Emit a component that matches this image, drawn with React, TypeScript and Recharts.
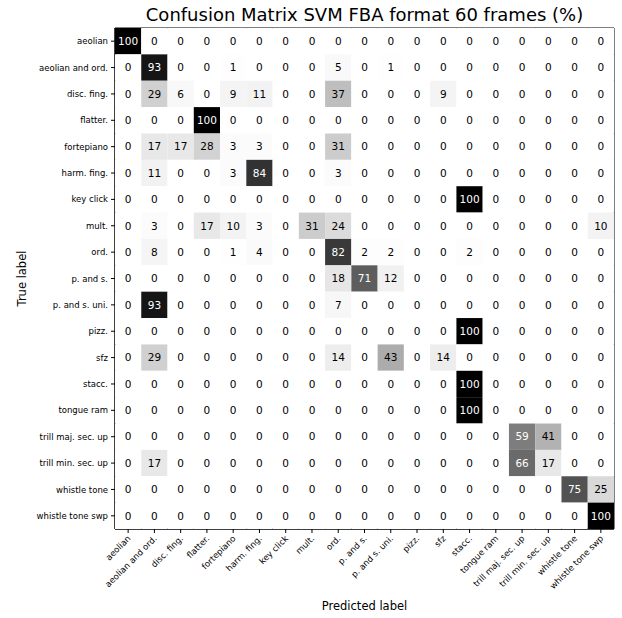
import React from 'react';
import { ScatterChart, Scatter, XAxis, YAxis, ReferenceArea } from 'recharts';

const labels = [
  'aeolian', 'aeolian and ord.', 'disc. fing.', 'flatter.', 'fortepiano', 'harm. fing.',
  'key click', 'mult.', 'ord.', 'p. and s.', 'p. and s. uni.', 'pizz.', 'sfz', 'stacc.',
  'tongue ram', 'trill maj. sec. up', 'trill min. sec. up', 'whistle tone', 'whistle tone swp',
];

const rowAeolian = [100, 0, 0, 0, 0, 0, 0, 0, 0, 0, 0, 0, 0, 0, 0, 0, 0, 0, 0];
const rowAeolianOrd = [0, 93, 0, 0, 1, 0, 0, 0, 5, 0, 1, 0, 0, 0, 0, 0, 0, 0, 0];
const rowDiscFing = [0, 29, 6, 0, 9, 11, 0, 0, 37, 0, 0, 0, 9, 0, 0, 0, 0, 0, 0];
const rowFlatter = [0, 0, 0, 100, 0, 0, 0, 0, 0, 0, 0, 0, 0, 0, 0, 0, 0, 0, 0];
const rowFortepiano = [0, 17, 17, 28, 3, 3, 0, 0, 31, 0, 0, 0, 0, 0, 0, 0, 0, 0, 0];
const rowHarmFing = [0, 11, 0, 0, 3, 84, 0, 0, 3, 0, 0, 0, 0, 0, 0, 0, 0, 0, 0];
const rowKeyClick = [0, 0, 0, 0, 0, 0, 0, 0, 0, 0, 0, 0, 0, 100, 0, 0, 0, 0, 0];
const rowMult = [0, 3, 0, 17, 10, 3, 0, 31, 24, 0, 0, 0, 0, 0, 0, 0, 0, 0, 10];
const rowOrd = [0, 8, 0, 0, 1, 4, 0, 0, 82, 2, 2, 0, 0, 2, 0, 0, 0, 0, 0];
const rowPandS = [0, 0, 0, 0, 0, 0, 0, 0, 18, 71, 12, 0, 0, 0, 0, 0, 0, 0, 0];
const rowPandSUni = [0, 93, 0, 0, 0, 0, 0, 0, 7, 0, 0, 0, 0, 0, 0, 0, 0, 0, 0];
const rowPizz = [0, 0, 0, 0, 0, 0, 0, 0, 0, 0, 0, 0, 0, 100, 0, 0, 0, 0, 0];
const rowSfz = [0, 29, 0, 0, 0, 0, 0, 0, 14, 0, 43, 0, 14, 0, 0, 0, 0, 0, 0];
const rowStacc = [0, 0, 0, 0, 0, 0, 0, 0, 0, 0, 0, 0, 0, 100, 0, 0, 0, 0, 0];
const rowTongueRam = [0, 0, 0, 0, 0, 0, 0, 0, 0, 0, 0, 0, 0, 100, 0, 0, 0, 0, 0];
const rowTrillMaj = [0, 0, 0, 0, 0, 0, 0, 0, 0, 0, 0, 0, 0, 0, 0, 59, 41, 0, 0];
const rowTrillMin = [0, 17, 0, 0, 0, 0, 0, 0, 0, 0, 0, 0, 0, 0, 0, 66, 17, 0, 0];
const rowWhistle = [0, 0, 0, 0, 0, 0, 0, 0, 0, 0, 0, 0, 0, 0, 0, 0, 0, 75, 25];
const rowWhistleSwp = [0, 0, 0, 0, 0, 0, 0, 0, 0, 0, 0, 0, 0, 0, 0, 0, 0, 0, 100];

const matrix = [
  rowAeolian, rowAeolianOrd, rowDiscFing, rowFlatter, rowFortepiano, rowHarmFing,
  rowKeyClick, rowMult, rowOrd, rowPandS, rowPandSUni, rowPizz, rowSfz, rowStacc,
  rowTongueRam, rowTrillMaj, rowTrillMin, rowWhistle, rowWhistleSwp,
];

const tickIdx = labels.map((_, i) => i);

const cells = matrix.flatMap((row, r) => row.map((v, c) => ({ x: c, y: r, v })));

// matplotlib "Greys" colormap stops
const greyStops = [255, 240, 217, 189, 150, 115, 82, 37, 0];
function greys(frac: number) {
  const f = Math.max(0, Math.min(1, frac)) * (greyStops.length - 1);
  const i = Math.min(Math.floor(f), greyStops.length - 2);
  const t = f - i;
  const g = Math.round(greyStops[i] + (greyStops[i + 1] - greyStops[i]) * t);
  return `rgb(${g},${g},${g})`;
}

const W = 622;
const H = 618;
const margin = { top: 28, right: 8, left: 15, bottom: 29 };
const yAxisW = 100;
const xAxisH = 60;
const plotW = W - margin.left - margin.right - yAxisW;
const plotH = H - margin.top - margin.bottom - xAxisH;
const n = labels.length;
const cellW = plotW / n;
const cellH = plotH / n;
const font = 'DejaVu Sans';

const CellShape = (props: any) => {
  const { cx, cy, payload } = props;
  const v = payload.v;
  return (
    <g>
      <rect x={cx - cellW / 2} y={cy - cellH / 2} width={cellW} height={cellH} fill={greys(v / 100)} />
      <text
        x={cx}
        y={cy}
        dy="0.36em"
        textAnchor="middle"
        fontSize={10.5}
        fontFamily={font}
        fill={v > 50 ? '#fff' : '#000'}
      >
        {v}
      </text>
    </g>
  );
};

const XTick = (props: any) => {
  const { x, y, payload } = props;
  return (
    <g transform={`translate(${x + 3},${y + 4})`}>
      <text x={0} y={0} textAnchor="end" transform="rotate(-45)" fontSize={8.5} fontFamily={font} fill="#000">
        {labels[payload.value]}
      </text>
    </g>
  );
};

const YTick = (props: any) => {
  const { x, y, payload } = props;
  return (
    <text x={x} y={y} dy="0.36em" textAnchor="end" fontSize={8.5} fontFamily={font} fill="#000">
      {labels[payload.value]}
    </text>
  );
};

export default function App() {
  return (
    <div style={{ position: 'absolute', left: 0, top: 0, width: W, height: H, background: '#fff' }}>
      <div
        style={{
          position: 'absolute',
          left: margin.left + yAxisW + plotW / 2 - 300,
          width: 600,
          top: 4,
          textAlign: 'center',
          fontFamily: font,
          fontSize: 18,
          lineHeight: '22px',
          color: '#000',
          whiteSpace: 'nowrap',
        }}
      >
        Confusion Matrix SVM FBA format 60 frames (%)
      </div>
      <ScatterChart width={W} height={H} margin={margin}>
        <XAxis
          type="number"
          dataKey="x"
          domain={[-0.5, n - 0.5]}
          ticks={tickIdx}
          interval={0}
          tick={<XTick />}
          tickSize={4}
          tickLine={{ stroke: '#000' }}
          axisLine={{ stroke: '#000' }}
          height={xAxisH}
          allowDataOverflow
          label={{ value: 'Predicted label', position: 'bottom', offset: 13, fontSize: 11.5, fontFamily: font, fill: '#000' }}
        />
        <YAxis
          type="number"
          dataKey="y"
          domain={[-0.5, n - 0.5]}
          reversed
          ticks={tickIdx}
          interval={0}
          tick={<YTick />}
          tickSize={4}
          tickMargin={3}
          tickLine={{ stroke: '#000' }}
          axisLine={{ stroke: '#000' }}
          width={yAxisW}
          allowDataOverflow
          label={{
            value: 'True label',
            angle: -90,
            position: 'insideLeft',
            offset: 7,
            fontSize: 11.5,
            fontFamily: font,
            fill: '#000',
            style: { textAnchor: 'middle' },
          }}
        />
        <Scatter data={cells} shape={<CellShape />} isAnimationActive={false} />
        <ReferenceArea
          x1={-0.5}
          x2={n - 0.5}
          y1={-0.5}
          y2={n - 0.5}
          fill="none"
          fillOpacity={0}
          stroke="#000"
          strokeWidth={1}
          ifOverflow="visible"
        />
      </ScatterChart>
    </div>
  );
}
